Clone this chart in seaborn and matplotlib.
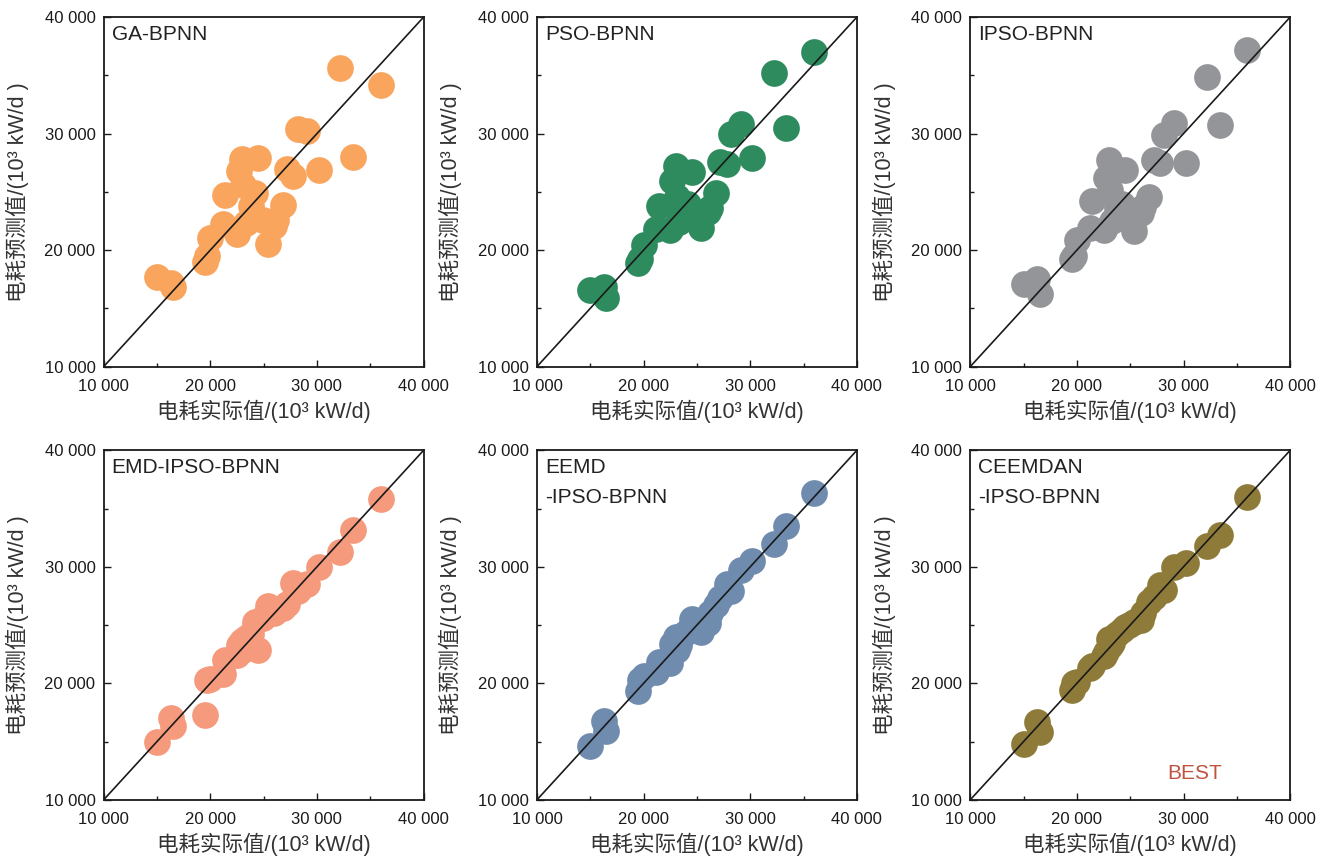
import numpy as np
import pandas as pd
import matplotlib
matplotlib.use("Agg")
import matplotlib.pyplot as plt
import seaborn as sns
from matplotlib.ticker import MultipleLocator, FuncFormatter

# ====== DATA ======
actual = [15000, 16300, 16500, 19500, 19700, 20000, 21200, 21400, 22500, 22700,
          23000, 23100, 23300, 23800, 24200, 24500, 24900, 25400, 26000, 26200,
          26800, 27200, 27800, 28200, 29100, 30200, 32200, 33400, 36000]

ga_bpnn = [17700, 17200, 16800, 19000, 19500, 21000, 22200, 24700, 21400, 26800,
           27800, 25600, 22300, 23800, 24900, 27900, 22600, 20500, 22100, 22600,
           23900, 27000, 26400, 30400, 30200, 26900, 35600, 28000, 34200]

pso_bpnn = [16600, 16800, 15900, 18900, 19200, 20400, 21800, 23800, 21700, 25900,
            27200, 24600, 22400, 23500, 24000, 26700, 23100, 21900, 23300, 23600,
            24900, 27600, 27400, 30000, 30800, 27900, 35200, 30500, 37000]

ipso_bpnn = [17100, 17500, 16200, 19200, 19500, 20900, 21900, 24200, 21700, 26200,
             27700, 25200, 22500, 23600, 24000, 26900, 23300, 21600, 23200, 23700,
             24600, 27700, 27500, 29900, 30900, 27500, 34900, 30700, 37200]

emd_ipso = [15000, 17000, 16300, 17300, 20300, 20400, 20800, 22000, 22400, 23300,
            23600, 22900, 23900, 24200, 25300, 22900, 25600, 26600, 26000, 26200,
            26500, 26800, 28600, 27900, 28500, 30000, 31300, 33200, 35800]

eemd_ipso = [14600, 16800, 15900, 19300, 20300, 20600, 21000, 21800, 21700, 23400,
             24000, 22900, 23300, 24200, 24500, 25500, 25300, 24400, 25200, 26000,
             26700, 27300, 28500, 27900, 29700, 30500, 32000, 33500, 36300]

ceemdan_ipso = [14800, 16700, 15800, 19400, 20000, 20100, 21300, 21500, 22300, 22700,
                23800, 23200, 23500, 24200, 24600, 24800, 25000, 25300, 25400, 26000,
                27000, 27400, 28400, 28000, 30000, 30300, 31800, 32700, 36000]

models = ["GA-BPNN", "PSO-BPNN", "IPSO-BPNN", "EMD-IPSO-BPNN",
          "EEMD\n-IPSO-BPNN", "CEEMDAN\n-IPSO-BPNN"]
colors = ["#F9A55E", "#2E8B5E", "#939598", "#F59A7C", "#6F8BAE", "#8E7B3A"]
# ==================

predicted = [ga_bpnn, pso_bpnn, ipso_bpnn, emd_ipso, eemd_ipso, ceemdan_ipso]
df = pd.concat(
    [pd.DataFrame({"Model": m, "Actual": actual, "Predicted": p})
     for m, p in zip(models, predicted)],
    ignore_index=True,
)

sns.set_style("white")
plt.rcParams["font.family"] = ["Liberation Sans", "Noto Sans CJK SC", "DejaVu Sans"]

fig, axes = plt.subplots(2, 3, figsize=(13.3, 8.59), dpi=100)
fig.subplots_adjust(left=0.078, right=0.970, bottom=0.069, top=0.980,
                    wspace=0.355, hspace=0.24)

fmt = FuncFormatter(lambda v, pos: f"{int(v):,}".replace(",", " "))

for ax, model, color in zip(axes.flat, models, colors):
    sub = df[df["Model"] == model]
    sns.scatterplot(data=sub, x="Actual", y="Predicted", color=color,
                    s=370, linewidth=0, alpha=1, ax=ax, zorder=2)
    ax.plot([10000, 40000], [10000, 40000], color="#1a1a1a", lw=1.2, zorder=3)
    ax.set_xlim(10000, 40000)
    ax.set_ylim(10000, 40000)
    ax.xaxis.set_major_locator(MultipleLocator(10000))
    ax.yaxis.set_major_locator(MultipleLocator(10000))
    ax.xaxis.set_minor_locator(MultipleLocator(5000))
    ax.yaxis.set_minor_locator(MultipleLocator(5000))
    ax.xaxis.set_major_formatter(fmt)
    ax.yaxis.set_major_formatter(fmt)
    ax.tick_params(which="both", direction="in", left=True, bottom=True,
                   top=False, right=False, colors="#1a1a1a", labelsize=12)
    ax.tick_params(which="major", length=5, width=1)
    ax.tick_params(which="minor", length=3, width=1)
    ax.tick_params(axis="x", which="major", pad=9)
    ax.tick_params(axis="y", which="major", pad=6)
    for sp in ax.spines.values():
        sp.set_color("#1a1a1a")
        sp.set_linewidth(1.3)
    ax.set_xlabel("电耗实际值/(10³ kW/d)", fontsize=15.5, color="#333333", labelpad=4)
    ax.set_ylabel("电耗预测值/(10³ kW/d )", fontsize=15.5, color="#333333", labelpad=11)
    ax.text(0.025, 0.978, model, transform=ax.transAxes, ha="left", va="top",
            fontsize=15, color="#222222", linespacing=1.7)

axes[1, 2].text(0.70, 0.075, "BEST", transform=axes[1, 2].transAxes,
                ha="center", va="center", fontsize=15, color="#C0533F")

plt.savefig("out.png", dpi=100)
plt.close()
